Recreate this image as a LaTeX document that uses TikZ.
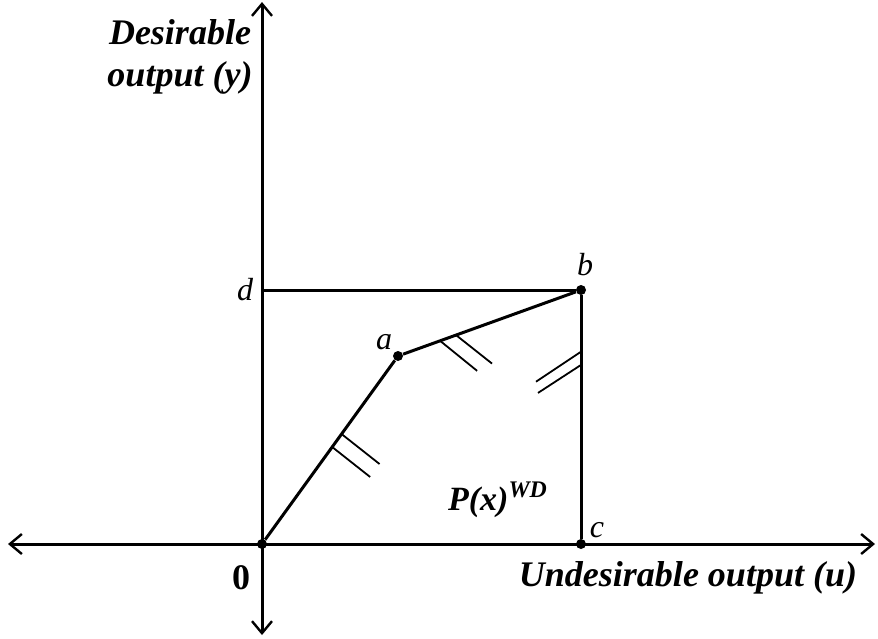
\documentclass[tikz,border=0pt]{standalone}
\usepackage{fontspec}
\setmainfont{Liberation Serif}
\usetikzlibrary{positioning, arrows.meta, calc}

\begin{document}
\begin{tikzpicture}[
    x=0.5pt, y=-0.5pt,
    >={Straight Barb[length=6pt,width=10pt,line width=1.2pt]},
    axis/.style={line width=1.5pt, <->},
    edge/.style={line width=1.5pt},
    hatch/.style={line width=0.9pt},
    dot/.style={circle, fill, inner sep=0pt, minimum size=5pt},
    lbl/.style={font=\fontsize{16}{18}\selectfont\itshape, inner sep=1pt},
    title/.style={font=\fontsize{18}{21}\selectfont\bfseries\itshape, align=center, inner sep=1pt}
]
\useasboundingbox (0,0) rectangle (878,638);

% axes
\coordinate (xl) at (8,544);
\coordinate (xr) at (875,544);
\coordinate (yt) at (262,2);
\coordinate (yb) at (262,635);
\draw[axis] (xl) -- (xr);
\draw[axis] (yb) -- (yt);

% points
\node[dot] (o) at (262,544) {};
\node[dot] (a) at (398,356) {};
\node[dot] (b) at (581,290) {};
\node[dot] (c) at (581,544) {};
\coordinate (d) at (262,290);

\draw[edge] (o) -- (a) -- (b);
\draw[edge] (d) -- (b) -- (c);

% hatch marks
\draw[hatch] ($(o)!0.585!(a)$) -- ++(38,30);
\draw[hatch] ($(o)!0.516!(a)$) -- ++(38,30);
\draw[hatch] ($(a)!0.23!(b)$) -- ++(37,30);
\draw[hatch] ($(a)!0.317!(b)$) -- ++(36,28.5);
\draw[hatch] ($(b)!0.243!(c)$) -- ++(-45,30);
\draw[hatch] ($(b)!0.295!(c)$) -- ++(-43,28);

% labels
\node[lbl] (la) at (384,342) {a};
\node[lbl] (lb) at (585,265) {b};
\node[lbl] (lc) at (597,530) {c};
\node[lbl] (ld) at (245,290) {d};
\node[title, font=\fontsize{18}{21}\selectfont\bfseries] (lo) at (241,578) {0};
\node[title] (ly) at (180,57) {Desirable\\output (y)};
\node[title] (lu) at (688,578) {Undesirable output (u)};
\node[title, font=\fontsize{17}{19}\selectfont\bfseries\itshape] (lp) at (498,500) {P(x)\textsuperscript{WD}};
\end{tikzpicture}
\end{document}
